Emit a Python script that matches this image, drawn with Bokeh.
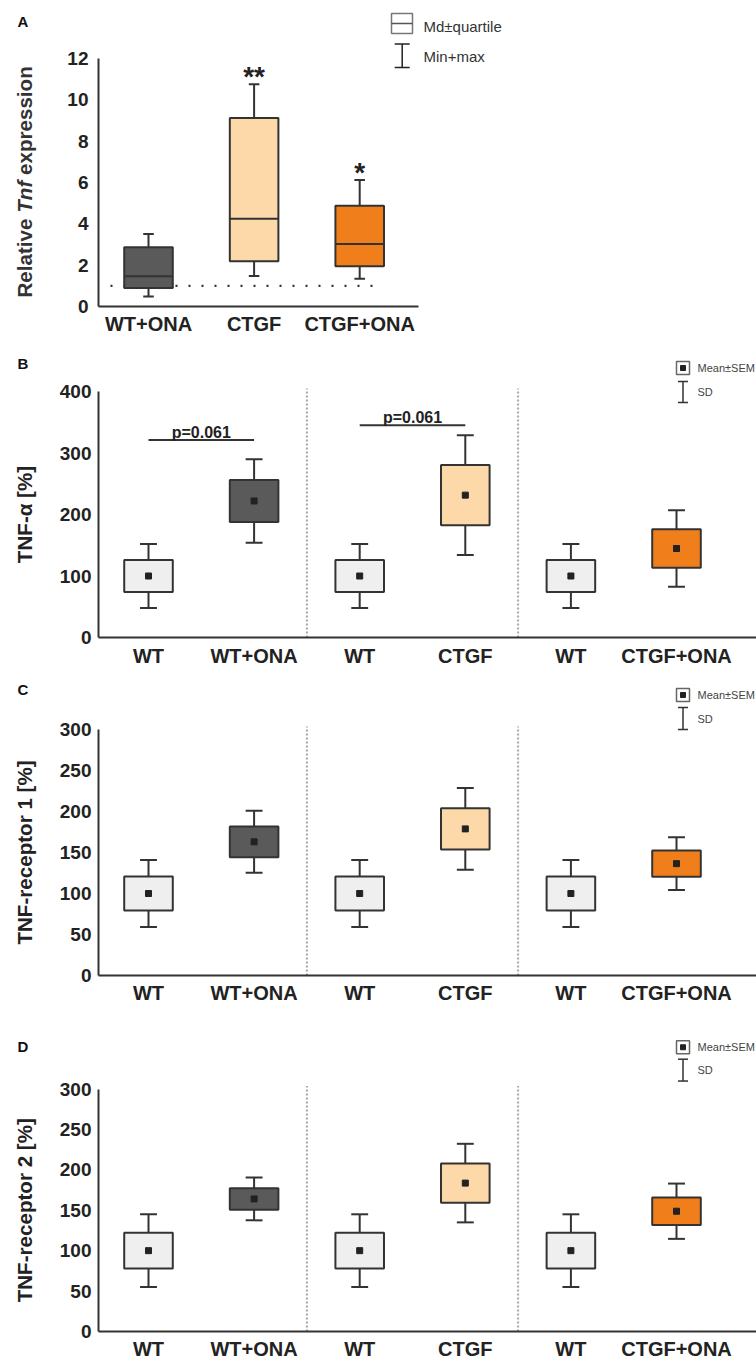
import numpy as np
from bokeh.plotting import figure
from bokeh.models import Range1d, FixedTicker, Label, ColumnDataSource
from bokeh.layouts import column, row
from bokeh.embed import file_html
from bokeh.resources import INLINE
from bokeh.core.properties import value

# ------------------------------------------------------------------ data
# Panel A: relative Tnf expression (median, quartiles, min/max)
A_groups = ["WT+ONA", "CTGF", "CTGF+ONA"]
A_median = [1.46, 4.25, 3.03]
A_q1 = [0.90, 2.19, 1.95]
A_q3 = [2.87, 9.12, 4.88]
A_min = [0.48, 1.48, 1.34]
A_max = [3.51, 10.76, 6.12]
A_stars = ["", "**", "*"]
A_reference_level = 1.0
A_yticks = [0, 2, 4, 6, 8, 10, 12]

# Panels B-D: mean, SEM, SD
groups = ["WT", "WT+ONA", "WT", "CTGF", "WT", "CTGF+ONA"]

TNFa_mean = [100, 222, 100, 231.5, 100, 144.7]
TNFa_sem = [26, 34.3, 26, 48.8, 26, 31.2]
TNFa_sd = [52, 68, 52, 97.5, 52, 62.3]
TNFa_yticks = [0, 100, 200, 300, 400]
TNFa_pval_text = ["p=0.061", "p=0.061"]
TNFa_pval_from = [1, 3]
TNFa_pval_to = [2, 4]
TNFa_pval_y = [321, 345]

TNFR1_mean = [100, 163, 100, 178.8, 100, 136.4]
TNFR1_sem = [20.7, 18.7, 20.7, 25.2, 20.7, 16.1]
TNFR1_sd = [41, 37.8, 41, 49.8, 41, 32.1]

TNFR2_mean = [100, 164, 100, 183.6, 100, 148.8]
TNFR2_sem = [22.2, 13.3, 22.2, 24.2, 22.2, 17.0]
TNFR2_sd = [45, 26.5, 45, 48.6, 45, 34.2]

R_yticks = [0, 50, 100, 150, 200, 250, 300]

# ------------------------------------------------------------------ style / layout
FONT = "Liberation Sans"
INK = "#333333"
TXT = "#222222"
COLORS = {"WT": "#eeefee", "WT+ONA": "#5a5a5a", "CTGF": "#fdd9aa", "CTGF+ONA": "#f07f1b"}

PAGE_W = 756
SIDE_W = 46            # strip at the left holding panel letters and y titles
FRAME_LEFT = 98        # page x of the y axis
MAIN_W = PAGE_W - SIDE_W
PX_CAT1 = 148.0        # page x of first category
PXU = 105.6            # px per category
X_START = 1 - (PX_CAT1 - FRAME_LEFT) / PXU
X_END = X_START + (PAGE_W - FRAME_LEFT) / PXU
TITLE_PX = 20.6


def xd(px):
    return 1 + (px - PX_CAT1) / PXU


PANELS = {
    "A": dict(fig_top=0, fig_h=338, axis0=306, axis_top=58, top_val=12, letter_y=20.5,
              ystand=10, xstand=6),
    "B": dict(fig_top=338, fig_h=334, axis0=637, axis_top=391, top_val=400, letter_y=363,
              ystand=7, xstand=7, leg_box=367.5, leg_w=(381, 402)),
    "C": dict(fig_top=672, fig_h=336, axis0=975, axis_top=729, top_val=300, letter_y=689,
              ystand=7, xstand=6, leg_box=694.5, leg_w=(707, 729)),
    "D": dict(fig_top=1008, fig_h=354, axis0=1333, axis_top=1089, top_val=300, letter_y=1046,
              ystand=7, xstand=6, leg_box=1047, leg_w=(1059, 1081)),
}


def label(p, x, y, text, size, style="normal", align="left", baseline="middle", color=TXT):
    p.add_layout(Label(x=x, y=y, text=text, text_font=FONT, text_font_size=size,
                       text_font_style=style, text_align=align, text_baseline=baseline,
                       text_color=color))


def side_fig(key):
    # frame of this strip is aligned with the main plot's frame by the row layout
    cfg = PANELS[key]
    h = cfg["fig_h"]
    mb = cfg["fig_top"] + h - cfg["axis0"]
    s = figure(width=SIDE_W, height=h, x_range=Range1d(0, SIDE_W), y_range=Range1d(0, h - mb),
               output_backend="svg", toolbar_location=None, x_axis_location=None,
               y_axis_location=None, min_border_left=0, min_border_right=0,
               min_border_top=0, min_border_bottom=mb)
    s.outline_line_color = None
    s.grid.visible = False
    sy = lambda py: cfg["axis0"] - py
    s.text(x=[22.5], y=[sy(cfg["letter_y"])], text=[key], text_font=value(FONT), text_font_size="15px",
           text_font_style="bold", text_align="center", text_baseline="middle", text_color="#111111")
    return s, sy


def main_fig(key, yticks, cat_names, x_bound_end=None):
    cfg = PANELS[key]
    ppu = (cfg["axis0"] - cfg["axis_top"]) / cfg["top_val"]
    y_end = (cfg["axis0"] - cfg["fig_top"]) / ppu
    p = figure(width=MAIN_W, height=cfg["fig_h"], x_range=Range1d(X_START, X_END),
               y_range=Range1d(0, y_end), output_backend="svg", toolbar_location=None,
               min_border_left=FRAME_LEFT - SIDE_W, min_border_right=0, min_border_top=0,
               min_border_bottom=cfg["fig_top"] + cfg["fig_h"] - cfg["axis0"])
    p.outline_line_color = None
    p.grid.visible = False

    ya = p.yaxis[0]
    ya.ticker = FixedTicker(ticks=yticks)
    ya.bounds = (0, yticks[-1])
    ya.major_tick_out = 0
    ya.major_tick_in = 0
    ya.minor_tick_out = 0
    ya.minor_tick_in = 0
    ya.axis_line_color = INK
    ya.axis_line_width = 2
    ya.major_label_text_font = FONT
    ya.major_label_text_font_size = "19px"
    ya.major_label_text_font_style = "bold"
    ya.major_label_text_color = TXT
    ya.major_label_standoff = cfg["ystand"]

    xa = p.xaxis[0]
    xa.ticker = FixedTicker(ticks=list(range(1, len(cat_names) + 1)))
    xa.major_label_overrides = {i + 1: n for i, n in enumerate(cat_names)}
    xa.major_tick_out = 0
    xa.major_tick_in = 0
    xa.minor_tick_out = 0
    xa.minor_tick_in = 0
    xa.axis_line_color = INK
    xa.axis_line_width = 2
    if x_bound_end is not None:
        xa.bounds = (X_START, x_bound_end)
    xa.major_label_text_font = FONT
    xa.major_label_text_font_size = "20px"
    xa.major_label_text_font_style = "bold"
    xa.major_label_text_color = TXT
    xa.major_label_standoff = cfg["xstand"]

    yd = lambda py: (cfg["axis0"] - py) / ppu
    return p, yd, ppu


# ------------------------------------------------------------------ panel A
pA, ydA, ppuA = main_fig("A", A_yticks, A_groups, x_bound_end=xd(418))
sA, syA = side_fig("A")
xA = np.arange(1, len(A_groups) + 1)
wA, capA = 0.46, 0.10

pA.segment(x0=[xd(110)], y0=[A_reference_level], x1=[xd(382)], y1=[A_reference_level],
           line_color=INK, line_width=2.2, line_dash="2 11")

srcA = ColumnDataSource(dict(
    x=xA, left=xA - wA / 2, right=xA + wA / 2, capl=xA - capA / 2, capr=xA + capA / 2,
    q1=A_q1, q3=A_q3, med=A_median, lo=A_min, hi=A_max,
    color=[COLORS[g] for g in A_groups]))
pA.segment(x0="x", y0="q3", x1="x", y1="hi", source=srcA, line_color=INK, line_width=2)
pA.segment(x0="x", y0="q1", x1="x", y1="lo", source=srcA, line_color=INK, line_width=2)
pA.segment(x0="capl", y0="hi", x1="capr", y1="hi", source=srcA, line_color=INK, line_width=2)
pA.segment(x0="capl", y0="lo", x1="capr", y1="lo", source=srcA, line_color=INK, line_width=2)
pA.quad(left="left", right="right", bottom="q1", top="q3", source=srcA,
        fill_color="color", line_color=INK, line_width=2)
pA.segment(x0="left", y0="med", x1="right", y1="med", source=srcA, line_color=INK, line_width=2)
pA.text(x=xA, y=np.array(A_max) + 8.0 / ppuA, text=A_stars, text_font=value(FONT),
        text_font_size="28px", text_font_style="bold", text_align="center",
        text_baseline="middle", text_color=TXT)

# y title with italic gene name: three pieces, each starting where the previous ends
f = TITLE_PX
start0 = 297                              # page y where the title begins (bottom)
w_rel = 3.835 * f                         # "Relative"
w_sp = 0.278 * f                          # space
w_tnf = 1.555 * f                         # "Tnf"
for txt, yy, style in [("Relative", start0, "bold"),
                       ("Tnf", start0 - w_rel - w_sp, "bold italic"),
                       ("expression", start0 - w_rel - 2 * w_sp - w_tnf, "bold")]:
    sA.text(x=[24], y=[syA(yy)], text=[txt], angle=np.pi / 2, text_font=value(FONT),
            text_font_size=f"{f}px", text_font_style=style, text_align="left",
            text_baseline="middle", text_color=INK)

# legend A
pA.rect(x=[xd(401.5)], y=[ydA(23)], width=21, height=20, width_units="screen",
        height_units="screen", fill_color="white", line_color="#777777", line_width=1.5)
pA.segment(x0=[xd(391)], y0=[ydA(23)], x1=[xd(412)], y1=[ydA(23)], line_color="#555555", line_width=1.5)
pA.segment(x0=[xd(401.7)], y0=[ydA(43.5)], x1=[xd(401.7)], y1=[ydA(67)], line_color="#222222", line_width=1.5)
pA.segment(x0=[xd(394.2), xd(394.2)], y0=[ydA(43.5), ydA(67)], x1=[xd(409.2), xd(409.2)],
           y1=[ydA(43.5), ydA(67)], line_color="#222222", line_width=1.5)
label(pA, xd(423), ydA(26), "Md\u00b1quartile", "15px", "normal", "left", "middle", color=INK)
label(pA, xd(423), ydA(56), "Min+max", "15px", "normal", "left", "middle", color=INK)


# ------------------------------------------------------------------ panels B-D
def mean_panel(key, means, sems, sds, yticks, title, pvals=None):
    p, yd, ppu = main_fig(key, yticks, groups)
    s, sy = side_fig(key)
    cfg = PANELS[key]
    x = np.arange(1, len(groups) + 1)
    w, cap = 0.46, 0.16
    m = np.array(means)
    se = np.array(sems)
    sd = np.array(sds)
    # group separators
    seps = [(x[i] + x[i + 1]) / 2 for i in range(1, len(x) - 1, 2)]
    p.segment(x0=seps, y0=[0] * len(seps), x1=seps, y1=[yticks[-1] * 1.012] * len(seps),
              line_color="#a8a8a8", line_width=2, line_dash="2 2")
    src = ColumnDataSource(dict(
        x=x, left=x - w / 2, right=x + w / 2, capl=x - cap / 2, capr=x + cap / 2,
        lo=m - se, hi=m + se, sdlo=m - sd, sdhi=m + sd, mean=m,
        color=[COLORS[g] for g in groups]))
    p.segment(x0="x", y0="hi", x1="x", y1="sdhi", source=src, line_color=INK, line_width=2)
    p.segment(x0="x", y0="lo", x1="x", y1="sdlo", source=src, line_color=INK, line_width=2)
    p.segment(x0="capl", y0="sdhi", x1="capr", y1="sdhi", source=src, line_color=INK, line_width=2)
    p.segment(x0="capl", y0="sdlo", x1="capr", y1="sdlo", source=src, line_color=INK, line_width=2)
    p.quad(left="left", right="right", bottom="lo", top="hi", source=src,
           fill_color="color", line_color=INK, line_width=2)
    p.scatter(x="x", y="mean", source=src, marker="square", size=6, color="#222222")

    if pvals:
        txt, fr, to, yy = pvals
        fr = np.array(fr, dtype=float)
        to = np.array(to, dtype=float)
        p.segment(x0=fr, y0=yy, x1=to, y1=yy, line_color=INK, line_width=2)
        p.text(x=(fr + to) / 2, y=yy, text=txt, y_offset=-8, text_font=value(FONT),
               text_font_size="16px", text_font_style="bold", text_align="center",
               text_baseline="alphabetic", text_color=TXT)

    # y title in the side strip, centred on the axis
    yc = cfg["axis0"] - (cfg["axis0"] - cfg["axis_top"]) / 2
    s.text(x=[24], y=[sy(yc)], text=[title], angle=np.pi / 2, text_font=value(FONT),
           text_font_size=f"{TITLE_PX}px", text_font_style="bold", text_align="center",
           text_baseline="middle", text_color=TXT)

    # legend
    lx = 682.5
    p.rect(x=[xd(lx)], y=[yd(cfg["leg_box"])], width=13, height=13, width_units="screen",
           height_units="screen", fill_color="white", line_color="#666666", line_width=1.5)
    p.scatter(x=[xd(lx)], y=[yd(cfg["leg_box"])], marker="square", size=5, color="#222222")
    w0, w1 = cfg["leg_w"]
    p.segment(x0=[xd(lx)], y0=[yd(w0)], x1=[xd(lx)], y1=[yd(w1)], line_color=INK, line_width=1.5)
    p.segment(x0=[xd(lx - 5), xd(lx - 5)], y0=[yd(w0), yd(w1)], x1=[xd(lx + 5), xd(lx + 5)],
              y1=[yd(w0), yd(w1)], line_color=INK, line_width=1.5)
    label(p, xd(697), yd(cfg["leg_box"]), "Mean\u00b1SEM", "11px", "normal", "left", "middle", color="#444444")
    label(p, xd(697), yd((w0 + w1) / 2), "SD", "11px", "normal", "left", "middle", color="#444444")
    return s, p


sB, pB = mean_panel("B", TNFa_mean, TNFa_sem, TNFa_sd, TNFa_yticks, "TNF-\u03b1 [%]",
                    (TNFa_pval_text, TNFa_pval_from, TNFa_pval_to, TNFa_pval_y))
sC, pC = mean_panel("C", TNFR1_mean, TNFR1_sem, TNFR1_sd, R_yticks, "TNF-receptor 1 [%]")
sD, pD = mean_panel("D", TNFR2_mean, TNFR2_sem, TNFR2_sd, R_yticks, "TNF-receptor 2 [%]")

layout = column(row(sA, pA, spacing=0), row(sB, pB, spacing=0),
                row(sC, pC, spacing=0), row(sD, pD, spacing=0), spacing=0)
open("out.html", "w").write(file_html(layout, INLINE))
